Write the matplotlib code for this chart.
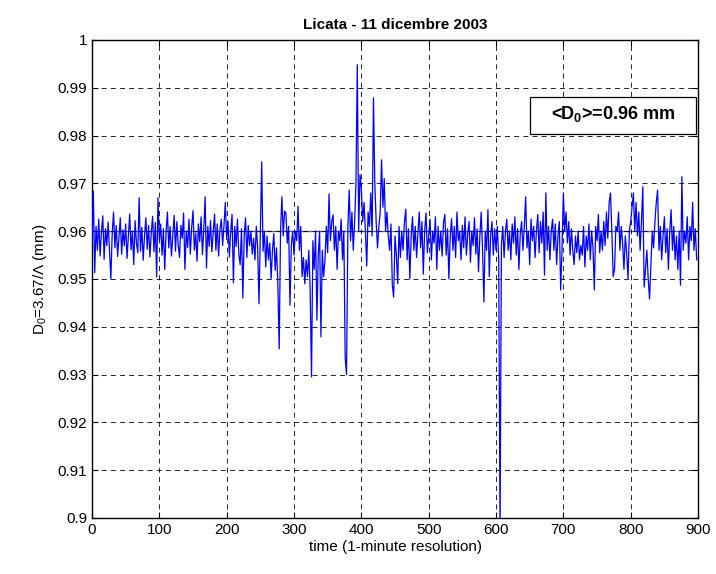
import matplotlib
matplotlib.use("Agg")
import matplotlib.pyplot as plt
from matplotlib.patches import Rectangle

plt.rcParams['font.family'] = ['Liberation Sans', 'DejaVu Sans']
plt.rcParams['mathtext.fontset'] = 'custom'
plt.rcParams['mathtext.rm'] = 'Liberation Sans'
plt.rcParams['mathtext.it'] = 'Liberation Sans'
plt.rcParams['mathtext.bf'] = 'Liberation Sans:bold'

title = "Licata - 11 dicembre 2003"
xlabel = "time (1-minute resolution)"
ylabel = r"D$_0$=3.67/$\Lambda$ (mm)"
mean_label = r"<D$_\mathbf{0}$>=0.96 mm"
mean_value = 0.96

# sample time (minutes), every 2 minutes
time_min = list(range(0, 900, 2))

# D0 values (mm), 10 per row (20 minutes per row)
d0 = [
    0.9575, 0.9684, 0.9513, 0.9610, 0.9560, 0.9625, 0.9548, 0.9598, 0.9632, 0.9541,  # 0
    0.9605, 0.9570, 0.9619, 0.9558, 0.9500, 0.9595, 0.9640, 0.9565, 0.9612, 0.9547,  # 20
    0.9588, 0.9628, 0.9552, 0.9603, 0.9569, 0.9615, 0.9543, 0.9590, 0.9636, 0.9561,  # 40
    0.9600, 0.9530, 0.9622, 0.9575, 0.9555, 0.9670, 0.9558, 0.9608, 0.9539, 0.9591,  # 60
    0.9628, 0.9562, 0.9612, 0.9546, 0.9596, 0.9631, 0.9557, 0.9618, 0.9504, 0.9670,  # 80
    0.9580, 0.9615, 0.9550, 0.9605, 0.9520, 0.9598, 0.9640, 0.9565, 0.9610, 0.9548,  # 100
    0.9592, 0.9633, 0.9558, 0.9620, 0.9571, 0.9545, 0.9612, 0.9585, 0.9638, 0.9520,  # 120
    0.9600, 0.9566, 0.9625, 0.9552, 0.9608, 0.9643, 0.9560, 0.9596, 0.9537, 0.9615,  # 140
    0.9578, 0.9630, 0.9551, 0.9604, 0.9672, 0.9523, 0.9610, 0.9568, 0.9622, 0.9557,  # 160
    0.9598, 0.9636, 0.9560, 0.9615, 0.9548, 0.9604, 0.9625, 0.9570, 0.9612, 0.9660,  # 180
    0.9583, 0.9620, 0.9546, 0.9600, 0.9635, 0.9492, 0.9610, 0.9568, 0.9625, 0.9553,  # 200
    0.9530, 0.9605, 0.9460, 0.9590, 0.9628, 0.9545, 0.9612, 0.9570, 0.9600, 0.9552,  # 220
    0.9585, 0.9540, 0.9610, 0.9566, 0.9448, 0.9600, 0.9745, 0.9558, 0.9600, 0.9525,  # 240
    0.9590, 0.9540, 0.9575, 0.9500, 0.9560, 0.9595, 0.9518, 0.9565, 0.9490, 0.9354,  # 260
    0.9600, 0.9672, 0.9590, 0.9642, 0.9638, 0.9575, 0.9610, 0.9445, 0.9570, 0.9600,  # 280
    0.9550, 0.9600, 0.9580, 0.9652, 0.9560, 0.9610, 0.9505, 0.9545, 0.9490, 0.9540,  # 300
    0.9505, 0.9560, 0.9475, 0.9295, 0.9580, 0.9520, 0.9600, 0.9414, 0.9550, 0.9600,  # 320
    0.9379, 0.9560, 0.9505, 0.9540, 0.9610, 0.9555, 0.9678, 0.9580, 0.9620, 0.9634,  # 340
    0.9560, 0.9610, 0.9520, 0.9600, 0.9580, 0.9625, 0.9540, 0.9600, 0.9335, 0.9300,  # 360
    0.9610, 0.9686, 0.9580, 0.9640, 0.9560, 0.9620, 0.9700, 0.9948, 0.9600, 0.9718,  # 380
    0.9690, 0.9620, 0.9660, 0.9600, 0.9527, 0.9640, 0.9610, 0.9680, 0.9590, 0.9879,  # 400
    0.9700, 0.9620, 0.9565, 0.9610, 0.9640, 0.9749, 0.9650, 0.9710, 0.9600, 0.9640,  # 420
    0.9590, 0.9560, 0.9615, 0.9487, 0.9462, 0.9590, 0.9550, 0.9490, 0.9610, 0.9545,  # 440
    0.9600, 0.9560, 0.9620, 0.9646, 0.9540, 0.9605, 0.9500, 0.9590, 0.9630, 0.9560,  # 460
    0.9610, 0.9545, 0.9595, 0.9640, 0.9565, 0.9620, 0.9510, 0.9600, 0.9638, 0.9555,  # 480
    0.9590, 0.9625, 0.9540, 0.9600, 0.9575, 0.9630, 0.9520, 0.9610, 0.9560, 0.9600,  # 500
    0.9548, 0.9618, 0.9635, 0.9550, 0.9605, 0.9500, 0.9590, 0.9626, 0.9560, 0.9610,  # 520
    0.9545, 0.9640, 0.9580, 0.9600, 0.9540, 0.9612, 0.9565, 0.9630, 0.9550, 0.9595,  # 540
    0.9620, 0.9535, 0.9600, 0.9570, 0.9628, 0.9552, 0.9605, 0.9515, 0.9590, 0.9640,  # 560
    0.9560, 0.9452, 0.9600, 0.9560, 0.9645, 0.9505, 0.9590, 0.9620, 0.9550, 0.9605,  # 580
    0.9560, 0.9610, 0.9540, 0.8960, 0.9570, 0.9610, 0.9545, 0.9600, 0.9625, 0.9560,  # 600
    0.9600, 0.9540, 0.9615, 0.9575, 0.9630, 0.9550, 0.9605, 0.9520, 0.9595, 0.9620,  # 620
    0.9560, 0.9610, 0.9672, 0.9565, 0.9600, 0.9530, 0.9625, 0.9580, 0.9610, 0.9545,  # 640
    0.9600, 0.9635, 0.9555, 0.9620, 0.9575, 0.9640, 0.9508, 0.9680, 0.9560, 0.9610,  # 660
    0.9540, 0.9600, 0.9625, 0.9560, 0.9615, 0.9530, 0.9590, 0.9620, 0.9477, 0.9560,  # 680
    0.9680, 0.9600, 0.9640, 0.9575, 0.9620, 0.9550, 0.9605, 0.9560, 0.9530, 0.9590,  # 700
    0.9555, 0.9600, 0.9540, 0.9570, 0.9550, 0.9610, 0.9525, 0.9590, 0.9560, 0.9615,  # 720
    0.9540, 0.9600, 0.9565, 0.9477, 0.9610, 0.9580, 0.9635, 0.9555, 0.9600, 0.9560,  # 740
    0.9620, 0.9570, 0.9640, 0.9585, 0.9660, 0.9680, 0.9600, 0.9505, 0.9520, 0.9610,  # 760
    0.9600, 0.9640, 0.9560, 0.9610, 0.9575, 0.9520, 0.9590, 0.9555, 0.9500, 0.9600,  # 780
    0.9620, 0.9650, 0.9680, 0.9600, 0.9660, 0.9590, 0.9640, 0.9560, 0.9620, 0.9693,  # 800
    0.9483, 0.9520, 0.9560, 0.9500, 0.9458, 0.9530, 0.9600, 0.9565, 0.9620, 0.9660,  # 820
    0.9686, 0.9560, 0.9610, 0.9540, 0.9590, 0.9630, 0.9555, 0.9605, 0.9520, 0.9600,  # 840
    0.9645, 0.9560, 0.9610, 0.9540, 0.9590, 0.9520, 0.9600, 0.9487, 0.9714, 0.9560,  # 860
    0.9600, 0.9575, 0.9630, 0.9540, 0.9610, 0.9580, 0.9660, 0.9560, 0.9605, 0.9540,  # 880
]

x_ticks = list(range(0, 1000, 100))
y_ticks = [0.90, 0.91, 0.92, 0.93, 0.94, 0.95, 0.96, 0.97, 0.98, 0.99, 1.00]
y_tick_labels = ["0.9", "0.91", "0.92", "0.93", "0.94", "0.95", "0.96", "0.97", "0.98", "0.99", "1"]

fig = plt.figure(figsize=(7.16, 5.74), dpi=100)
ax = fig.add_axes([0.1285, 0.0976, 0.8464, 0.8328])

ax.axhline(mean_value, color='0.4', lw=1.0, zorder=1)
ax.plot(time_min, d0, color=(0, 0, 1), lw=0.9, zorder=3)

ax.set_xlim(0, 900)
ax.set_ylim(0.9, 1.0)
ax.set_xticks(x_ticks)
ax.set_yticks(y_ticks)
ax.set_yticklabels(y_tick_labels)
ax.tick_params(direction='in', length=4, labelsize=11, top=True, right=True, width=0.8)
ax.grid(True, color='k', linestyle=(0, (6, 5)), lw=0.6, zorder=0)
for s in ax.spines.values():
    s.set_linewidth(1.0)

ax.set_title(title, fontsize=11, fontweight='bold', pad=8)
ax.set_xlabel(xlabel, fontsize=11, labelpad=2)
ax.set_ylabel(ylabel, fontsize=11, labelpad=6)

# boxed annotation with the mean value
box_x0, box_x1 = 0.7228, 0.997
box_y0, box_y1 = 0.803, 0.881
ax.add_patch(Rectangle((box_x0, box_y0), box_x1 - box_x0, box_y1 - box_y0,
                       transform=ax.transAxes, facecolor='white', edgecolor='k',
                       lw=0.9, zorder=5, clip_on=False))
ax.text((box_x0 + box_x1) / 2, (box_y0 + box_y1) / 2 + 0.003, mean_label,
        transform=ax.transAxes, ha='center', va='center',
        fontsize=13, fontweight='bold', zorder=6)

fig.savefig("out.png", dpi=100)
